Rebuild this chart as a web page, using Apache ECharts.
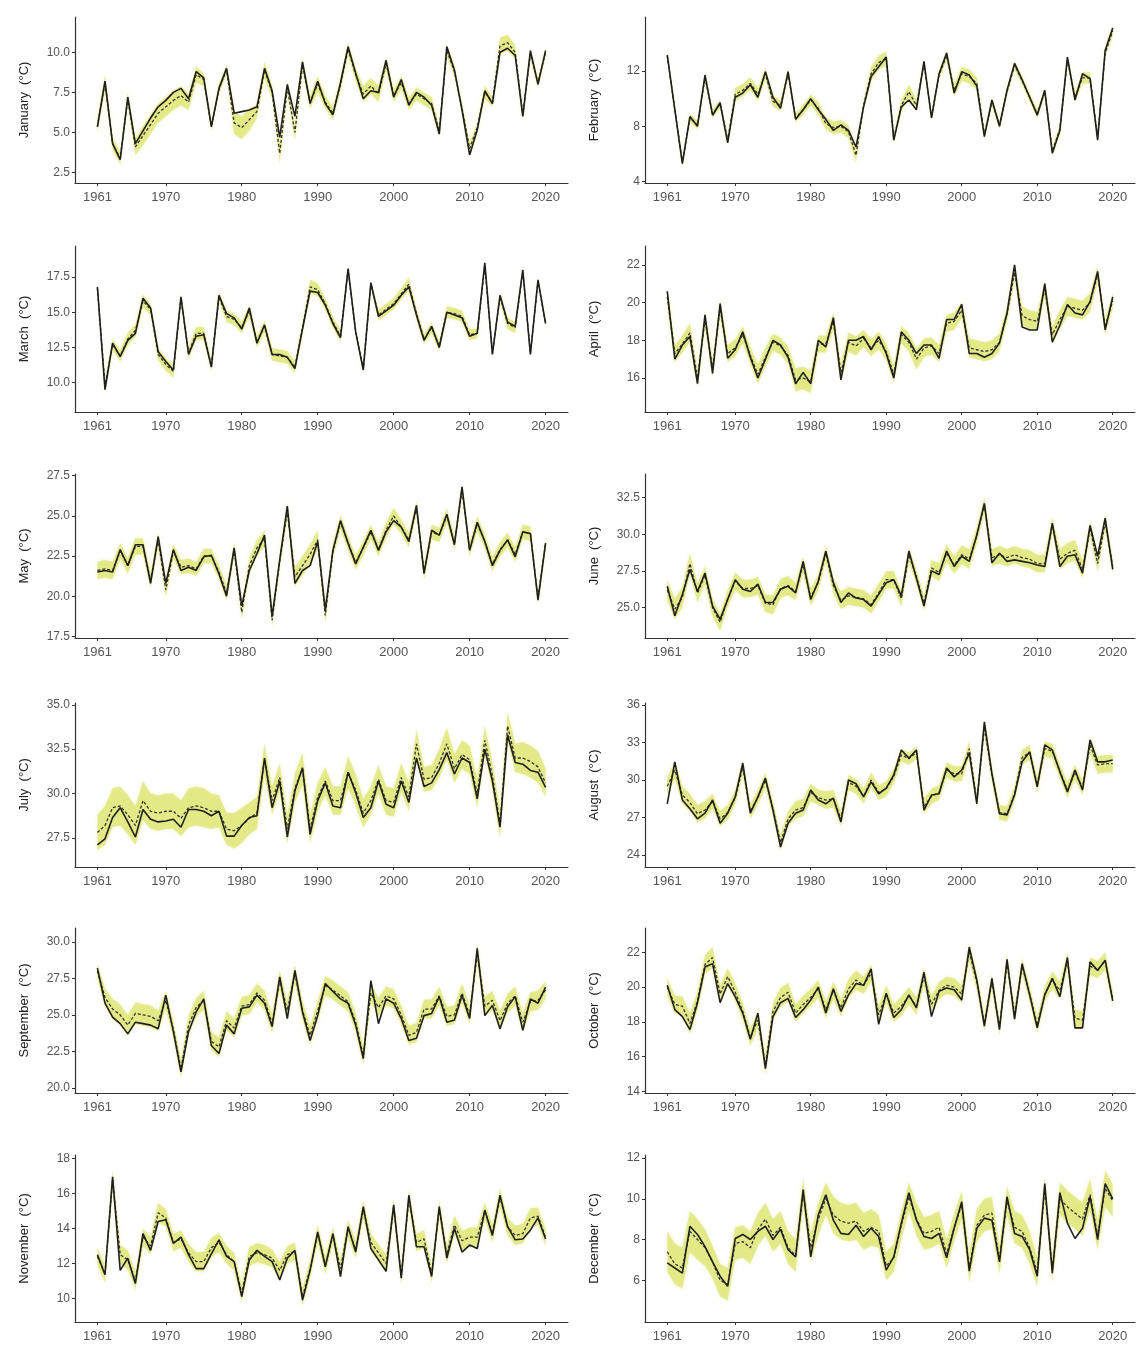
<!DOCTYPE html>
<html><head><meta charset="utf-8">
<script src="https://cdn.jsdelivr.net/npm/echarts@6/dist/echarts.min.js"></script>
<style>html,body{margin:0;padding:0;background:#fff}#c{width:1137px;height:1346px}</style>
</head><body><div id="c"></div>
<script>
const years = Array.from({length:60},(_,i)=>1961+i);
const xTicks = [1961,1970,1980,1990,2000,2010,2020];
const months = ['January','February','March','April','May','June','July','August','September','October','November','December'];

const jan_obs=[5.35,8.2,4.3,3.3,7.2,4.3,5.1,5.9,6.6,7.0, 7.5,7.75,7.1,8.8,8.4,5.35,7.75,9.0,6.2,6.3, 6.4,6.6,9.0,7.6,4.7,8.0,6.0,9.4,6.8,8.2, 6.8,6.1,8.1,10.35,8.7,7.1,7.6,7.5,9.5,7.2, 8.3,6.7,7.5,7.2,6.7,4.9,10.35,8.9,6.4,3.6, 5.15,7.6,6.8,10.0,10.25,9.8,6.0,10.1,8.0,10.1];
const jan_pred=[5.4,8.1,4.3,3.4,7.1,4.1,4.8,5.5,6.2,6.6, 7.0,7.3,6.9,8.6,8.3,5.4,7.7,8.9,5.6,5.3, 5.8,6.3,8.9,7.5,3.7,7.8,5.0,9.2,6.9,8.0, 6.9,6.2,8.0,10.2,8.6,7.4,7.9,7.4,9.3,7.3, 8.1,6.8,7.4,7.1,6.8,5.1,10.1,8.8,6.5,4.0, 5.3,7.5,6.9,10.4,10.6,10.0,6.1,9.9,8.1,10.0];
const jan_hw=[0.4,0.5,0.4,0.4,0.4,0.5,0.6,0.6,0.6,0.6, 0.6,0.6,0.5,0.5,0.4,0.3,0.3,0.3,0.7,0.7, 0.7,0.4,0.5,0.4,0.6,0.4,0.5,0.4,0.4,0.5, 0.4,0.4,0.4,0.4,0.4,0.5,0.5,0.5,0.4,0.4, 0.4,0.4,0.4,0.4,0.4,0.3,0.4,0.3,0.3,0.4, 0.3,0.4,0.3,0.5,0.5,0.4,0.3,0.3,0.3,0.3];

const feb_obs=[13.15,9.2,5.3,8.7,8.0,11.7,8.8,9.7,6.8,10.1, 10.4,11.0,10.1,11.95,10.1,9.3,11.95,8.5,9.2,10.0, 9.2,8.5,7.7,8.1,7.7,6.5,9.4,11.6,12.3,13.0, 7.0,9.4,9.9,9.2,12.7,8.6,11.8,13.3,10.4,11.95, 11.7,10.9,7.25,9.9,8.0,10.6,12.55,11.35,10.1,8.8, 10.6,6.05,7.7,13.0,9.9,11.8,11.45,7.0,13.5,15.1];
const feb_pred=[13.1,9.2,5.4,8.6,8.1,11.5,8.9,9.6,7.0,10.3, 10.6,11.1,10.3,11.8,9.8,9.5,11.8,8.6,9.2,9.9, 9.3,8.2,7.9,8.0,7.6,5.9,9.5,11.8,12.6,12.9, 7.1,9.5,10.5,9.5,12.5,8.7,11.7,13.1,10.6,11.8, 11.6,11.1,7.4,9.8,8.1,10.5,12.4,11.3,10.1,8.9, 10.5,6.2,7.8,12.8,10.1,11.5,11.5,7.2,13.3,14.9];
const feb_hw=[0.3,0.3,0.3,0.3,0.3,0.3,0.3,0.3,0.3,0.45, 0.45,0.45,0.45,0.4,0.4,0.4,0.3,0.3,0.35,0.4, 0.45,0.45,0.45,0.45,0.45,0.5,0.35,0.5,0.5,0.5, 0.3,0.4,0.5,0.4,0.3,0.3,0.3,0.35,0.45,0.5, 0.5,0.45,0.3,0.3,0.3,0.3,0.3,0.3,0.3,0.3, 0.3,0.3,0.3,0.3,0.35,0.4,0.4,0.3,0.3,0.4];

const mar_obs=[16.8,9.5,12.8,11.85,13.0,13.5,16.0,15.3,12.2,11.5, 10.9,16.1,12.0,13.3,13.4,11.1,16.2,14.9,14.6,13.8, 15.3,12.8,14.1,12.0,12.0,11.8,11.0,13.8,16.5,16.4, 15.5,14.2,13.2,18.1,13.6,10.9,17.1,14.7,15.1,15.5, 16.2,16.8,14.8,13.0,14.0,12.5,15.0,14.8,14.6,13.3, 13.5,18.5,12.0,16.2,14.3,14.0,18.0,12.0,17.3,14.2];
const mar_pred=[16.7,9.8,12.7,11.9,13.1,13.7,15.8,15.2,12.0,11.3, 10.8,16.0,12.1,13.5,13.5,11.2,16.1,14.7,14.5,13.9, 15.1,12.9,14.0,12.0,11.9,11.8,11.1,13.9,16.8,16.6, 15.6,14.3,13.3,18.0,13.6,11.0,17.0,14.8,15.2,15.6, 16.3,17.0,14.9,13.1,13.9,12.6,15.0,14.9,14.7,13.4, 13.5,18.3,12.1,16.1,14.2,13.9,17.9,12.1,17.2,14.2];
const mar_hw=[0.2,0.4,0.4,0.4,0.45,0.45,0.45,0.4,0.4,0.45, 0.45,0.3,0.4,0.45,0.45,0.35,0.35,0.4,0.4,0.4, 0.4,0.4,0.4,0.45,0.45,0.45,0.4,0.4,0.5,0.45, 0.4,0.4,0.4,0.2,0.2,0.2,0.25,0.4,0.4,0.4, 0.4,0.45,0.4,0.35,0.35,0.35,0.4,0.4,0.4,0.4, 0.35,0.2,0.2,0.3,0.4,0.4,0.2,0.2,0.2,0.2];

const apr_obs=[20.6,17.0,17.75,18.2,15.7,19.35,16.25,19.95,17.05,17.5, 18.45,17.1,16.0,17.0,18.0,17.75,17.1,15.7,16.3,15.7, 18.0,17.65,19.2,15.9,18.0,18.0,18.2,17.5,18.2,17.3, 16.0,18.45,18.0,17.3,17.75,17.75,17.05,19.1,19.1,19.9, 17.3,17.3,17.1,17.3,17.85,19.45,22.0,18.7,18.55,18.55, 21.0,17.9,18.8,19.9,19.45,19.35,20.05,21.65,18.55,20.3];
const apr_pred=[20.3,17.3,17.8,18.4,16.0,19.1,16.5,19.7,17.3,17.6, 18.3,17.2,16.2,17.1,17.9,17.7,17.2,15.9,16.0,15.8, 17.8,17.8,19.0,16.3,17.9,17.7,18.1,17.6,18.0,17.4, 16.2,18.3,17.9,17.0,17.6,17.7,17.3,18.9,19.0,19.6, 17.6,17.5,17.4,17.5,17.9,19.4,21.6,19.3,19.1,19.0, 20.7,18.3,19.1,19.8,19.7,19.6,20.0,21.5,18.7,20.1];
const apr_hw=[0.5,0.45,0.45,0.5,0.45,0.45,0.45,0.45,0.45,0.45, 0.45,0.45,0.5,0.5,0.45,0.45,0.45,0.6,0.6,0.6, 0.45,0.45,0.45,0.5,0.5,0.5,0.45,0.45,0.45,0.45, 0.45,0.45,0.5,0.55,0.5,0.45,0.45,0.45,0.45,0.4, 0.5,0.5,0.5,0.5,0.45,0.4,0.4,0.5,0.5,0.5, 0.4,0.45,0.5,0.5,0.5,0.5,0.5,0.4,0.4,0.4];

const may_obs=[21.5,21.6,21.5,22.9,21.9,23.2,23.2,20.8,23.7,20.8, 22.9,21.6,21.8,21.6,22.45,22.55,21.4,20.0,23.0,19.4, 21.6,22.65,23.8,18.75,22.25,25.6,20.8,21.6,21.9,23.4, 19.15,22.85,24.7,23.3,22.0,23.05,24.1,22.85,24.0,24.7, 24.3,23.4,25.65,21.4,24.1,23.8,25.1,23.2,26.8,22.85, 24.6,23.4,21.9,22.85,23.5,22.45,24.0,23.9,19.75,23.3];
const may_pred=[21.6,21.7,21.6,22.8,21.9,23.1,23.1,21.0,23.5,20.4, 22.8,21.8,21.9,21.7,22.5,22.5,21.5,20.2,22.9,19.0, 21.9,23.0,23.6,18.5,22.2,25.3,21.2,21.9,22.6,23.5, 18.8,22.8,24.6,23.3,22.1,23.0,24.0,22.9,24.1,25.0, 24.3,23.5,25.5,21.5,24.0,23.8,25.0,23.3,26.6,22.9, 24.5,23.4,22.0,22.9,23.5,22.6,24.0,23.9,19.9,23.3];
const may_hw=[0.55,0.55,0.55,0.5,0.5,0.5,0.5,0.45,0.45,0.45, 0.45,0.45,0.45,0.45,0.45,0.45,0.45,0.45,0.45,0.4, 0.5,0.5,0.5,0.4,0.5,0.45,0.6,0.6,0.6,0.6, 0.45,0.45,0.45,0.45,0.45,0.45,0.45,0.45,0.5,0.5, 0.45,0.45,0.4,0.45,0.45,0.45,0.45,0.45,0.4,0.45, 0.45,0.45,0.45,0.45,0.45,0.45,0.45,0.45,0.35,0.35];

const jun_obs=[26.45,24.45,25.9,27.6,26.1,27.35,25.1,24.2,25.55,26.9, 26.25,26.1,26.6,25.35,25.35,26.25,26.45,26.0,28.15,25.55, 26.8,28.85,26.7,25.35,26.0,25.65,25.55,25.1,25.9,26.7, 26.9,25.8,28.85,27.0,25.1,27.5,27.25,28.85,27.8,28.5, 28.15,29.95,32.1,28.05,28.7,28.15,28.25,28.15,28.05,27.9, 27.8,30.75,27.8,28.5,28.6,27.35,30.6,28.5,31.1,27.6];
const jun_pred=[26.2,24.9,25.7,28.0,26.0,27.2,25.0,24.0,25.6,26.8, 26.3,26.3,26.5,25.3,25.2,26.3,26.5,26.1,27.9,25.7, 26.7,28.7,26.5,25.5,25.8,25.7,25.6,25.2,26.0,26.9, 26.9,25.6,28.6,27.1,25.3,27.7,27.4,28.7,27.9,28.6, 28.3,29.9,32.0,28.4,28.6,28.4,28.6,28.4,28.3,28.0, 28.0,30.6,28.3,28.7,28.9,27.6,30.4,28.0,30.8,27.8];
const jun_hw=[0.7,0.7,0.7,0.7,0.65,0.6,0.6,0.6,0.6,0.6, 0.6,0.6,0.6,0.6,0.65,0.65,0.65,0.6,0.55,0.6, 0.55,0.55,0.55,0.6,0.6,0.6,0.6,0.6,0.6,0.6, 0.6,0.55,0.5,0.5,0.5,0.55,0.6,0.6,0.6,0.65, 0.65,0.55,0.5,0.6,0.6,0.6,0.6,0.6,0.6,0.6, 0.6,0.5,0.7,0.7,0.7,0.6,0.5,0.6,0.5,0.5];

const jul_obs=[27.1,27.45,28.65,29.2,28.4,27.55,29.1,28.55,28.4,28.45, 28.55,28.1,29.1,29.1,29.0,28.75,29.0,27.6,27.6,28.2, 28.65,28.75,32.0,29.2,30.7,27.55,30.15,31.45,27.7,29.6, 30.6,29.3,29.2,31.2,30.05,28.65,29.2,30.7,29.4,29.2, 30.7,29.5,32.0,30.4,30.6,31.35,32.3,31.1,32.0,31.75, 29.7,32.5,30.7,28.1,33.3,31.75,31.65,31.3,31.2,30.35];
const jul_pred=[27.8,28.2,29.2,29.3,28.8,28.2,29.6,29.0,28.9,29.0, 29.0,28.6,29.2,29.3,29.2,29.0,29.0,28.0,27.9,28.2, 28.6,28.9,31.9,29.6,30.9,28.0,30.3,31.4,28.0,29.8, 30.7,29.6,29.6,31.2,30.2,28.9,29.6,30.8,29.6,29.5, 30.9,29.8,32.8,30.8,30.9,31.7,32.8,31.4,32.2,31.9, 30.0,33.0,31.0,28.3,33.8,32.0,32.0,31.8,31.5,30.6];
const jul_hw=[1.0,1.1,1.1,1.1,1.1,1.1,1.1,1.0,1.0,1.0, 1.0,1.0,1.1,1.1,1.1,1.0,0.9,0.9,1.0,1.0, 0.9,0.9,0.9,0.8,0.8,0.8,0.8,0.9,0.8,0.8, 0.8,0.8,0.8,0.9,0.9,0.8,0.8,0.8,0.8,0.8, 0.8,0.8,0.8,0.7,0.7,0.8,0.9,0.8,0.8,0.8, 0.8,0.8,0.8,0.8,0.8,0.8,0.9,0.9,0.9,0.8];

const aug_obs=[28.1,31.45,28.4,27.7,26.9,27.35,28.4,26.55,27.35,28.65, 31.35,27.35,28.65,30.15,27.6,24.65,26.55,27.35,27.6,29.2, 28.4,28.1,28.55,26.65,30.0,29.7,28.65,29.85,28.9,29.35, 30.4,32.4,31.75,32.4,27.6,28.8,28.9,30.95,30.25,30.8, 32.15,28.1,34.65,30.5,27.3,27.2,28.8,31.45,32.25,29.45, 32.8,32.4,30.65,29.05,30.8,29.2,33.2,31.45,31.45,31.6];
const aug_pred=[29.5,30.8,28.8,28.2,27.3,27.6,28.3,26.9,27.4,28.6, 31.0,27.5,28.6,30.0,27.7,25.0,26.9,27.6,27.8,29.0, 28.6,28.4,28.5,26.9,29.8,29.5,28.7,30.0,29.0,29.3, 30.3,32.0,31.7,32.2,27.9,28.7,29.0,30.8,30.5,30.5, 32.5,28.3,34.2,30.4,27.4,27.3,28.9,31.8,32.2,29.6, 32.5,32.3,30.7,29.2,30.6,29.4,32.8,31.2,31.3,31.3];
const aug_hw=[0.7,0.7,0.7,0.7,0.7,0.7,0.6,0.6,0.6,0.6, 0.6,0.6,0.6,0.6,0.6,0.6,0.6,0.7,0.7,0.7, 0.6,0.7,0.7,0.6,0.6,0.6,0.6,0.6,0.6,0.6, 0.6,0.5,0.5,0.5,0.6,0.6,0.6,0.6,0.6,0.6, 0.6,0.6,0.6,0.6,0.6,0.6,0.6,0.6,0.6,0.6, 0.6,0.6,0.6,0.6,0.6,0.6,0.6,0.7,0.7,0.7];

const sep_obs=[28.2,25.8,24.85,24.4,23.7,24.5,24.4,24.3,24.05,26.35, 23.85,21.1,23.85,25.2,26.1,22.9,22.35,24.3,23.7,25.45, 25.55,26.35,25.8,24.2,27.6,24.75,28.05,25.2,23.25,24.95, 27.15,26.6,26.1,25.8,24.3,22.0,27.35,24.4,26.1,25.8, 24.75,23.25,23.4,24.95,25.1,26.25,24.5,24.65,26.35,24.75, 29.55,24.95,25.65,24.05,25.55,26.25,23.95,26.1,25.8,26.9];
const sep_pred=[28.0,26.2,25.4,25.0,24.3,25.1,25.0,24.9,24.6,26.0, 24.0,21.3,24.3,25.5,26.0,23.2,22.8,24.6,24.1,25.6, 25.7,26.5,26.0,24.4,27.4,25.3,27.8,25.3,23.6,25.3, 27.0,26.7,26.3,25.9,24.5,22.2,26.5,25.5,26.3,26.1, 25.0,23.6,23.8,25.4,25.4,26.3,24.9,25.0,26.5,25.0, 29.2,25.6,26.0,24.6,25.8,26.3,24.5,25.9,26.0,26.7];
const sep_hw=[0.5,0.6,0.7,0.7,0.7,0.75,0.75,0.75,0.7,0.6, 0.6,0.6,0.65,0.65,0.65,0.65,0.65,0.65,0.65,0.65, 0.65,0.65,0.65,0.65,0.65,0.65,0.6,0.65,0.65,0.65, 0.65,0.65,0.65,0.65,0.65,0.6,0.6,0.65,0.65,0.65, 0.65,0.65,0.65,0.65,0.65,0.65,0.65,0.65,0.65,0.65, 0.6,0.65,0.65,0.65,0.65,0.65,0.65,0.65,0.65,0.6];

const oct_obs=[20.1,18.7,18.3,17.55,19.1,21.15,21.35,19.1,20.2,19.45, 18.5,17.0,18.5,15.3,18.3,19.1,19.35,18.25,18.7,19.25, 20.0,18.5,19.9,18.6,19.55,20.2,20.1,21.05,17.85,19.65, 18.25,18.7,19.55,18.8,20.85,18.3,19.75,19.95,19.85,19.25, 22.3,20.4,17.75,20.5,17.55,21.6,18.15,21.35,19.55,17.65, 19.55,20.5,19.45,21.7,17.65,17.65,21.45,20.95,21.55,19.2];
const oct_pred=[20.0,19.0,18.9,17.9,19.2,21.3,21.7,19.6,20.6,19.7, 18.6,17.1,18.1,15.5,18.6,19.4,19.7,18.5,19.0,19.4, 19.9,18.7,19.8,18.8,19.9,20.4,20.1,20.8,18.4,19.6, 18.5,18.9,19.5,18.9,20.6,19.0,19.8,20.1,20.0,19.6, 22.0,20.3,17.9,20.3,17.7,21.4,18.4,21.2,19.6,17.8, 19.6,20.4,19.8,21.5,18.2,18.1,21.2,21.0,21.5,19.3];
const oct_hw=[0.5,0.5,0.55,0.6,0.55,0.55,0.6,0.5,0.5,0.5, 0.5,0.5,0.5,0.5,0.5,0.55,0.55,0.5,0.5,0.5, 0.5,0.5,0.5,0.5,0.55,0.55,0.5,0.5,0.5,0.5, 0.5,0.55,0.5,0.5,0.5,0.5,0.5,0.5,0.5,0.5, 0.5,0.5,0.45,0.45,0.45,0.45,0.45,0.45,0.45,0.45, 0.45,0.5,0.5,0.45,0.5,0.5,0.5,0.5,0.5,0.45];

const nov_obs=[12.5,11.35,16.95,11.6,12.3,10.85,13.7,12.75,14.4,14.5, 13.15,13.5,12.5,11.7,11.7,12.55,13.35,12.4,12.1,10.1, 12.2,12.75,12.4,12.1,11.05,12.3,12.75,9.9,11.6,13.8, 11.8,13.7,11.25,14.1,12.65,15.25,12.85,12.2,11.55,15.35, 11.15,15.9,12.95,12.95,11.25,15.25,12.3,14.0,12.65,13.05, 12.85,15.05,13.6,15.9,14.1,13.35,13.4,13.9,14.6,13.4];
const nov_pred=[12.4,11.4,16.8,12.5,12.2,11.0,13.5,13.0,14.9,14.6, 13.2,13.4,12.6,12.1,12.1,12.9,13.2,12.5,12.1,10.3, 12.4,12.6,12.5,12.3,11.6,12.5,12.7,10.1,11.7,13.7, 11.9,13.6,11.7,14.0,12.8,15.1,13.2,12.6,12.0,15.2, 11.3,15.7,13.2,13.4,11.4,15.1,12.5,14.2,13.3,13.5, 13.5,15.0,13.7,15.8,14.1,13.6,13.7,14.6,14.7,13.5];
const nov_hw=[0.5,0.5,0.5,0.55,0.55,0.5,0.5,0.5,0.55,0.5, 0.5,0.5,0.5,0.55,0.55,0.55,0.55,0.5,0.5,0.5, 0.55,0.55,0.55,0.5,0.5,0.5,0.5,0.5,0.5,0.5, 0.5,0.5,0.5,0.5,0.5,0.5,0.5,0.5,0.5,0.5, 0.5,0.5,0.5,0.5,0.5,0.5,0.5,0.55,0.55,0.55, 0.55,0.5,0.5,0.5,0.5,0.55,0.55,0.55,0.5,0.5];

const dec_obs=[6.85,6.6,6.35,8.65,8.25,7.65,6.9,6.2,5.7,8.05, 8.25,8.0,8.4,8.65,8.0,8.5,7.5,7.15,10.45,7.15, 9.2,10.2,8.95,8.3,8.25,8.7,8.15,8.55,8.15,6.5, 7.15,8.8,10.3,8.95,8.15,8.05,8.3,7.1,8.55,9.85, 6.45,8.55,9.05,8.95,6.9,10.1,8.3,8.15,7.5,6.2, 10.75,6.35,10.3,8.8,8.05,8.55,10.1,8.0,10.75,10.0];
const dec_pred=[7.4,6.8,6.6,8.4,8.0,7.6,6.9,6.0,5.8,7.8, 7.9,7.6,8.5,9.0,8.2,8.6,7.6,7.2,10.3,7.6, 9.0,10.0,9.2,8.9,8.8,8.9,8.4,8.6,8.4,6.7, 7.1,8.7,10.1,9.0,8.3,8.4,8.6,7.3,8.6,9.7, 6.6,8.7,9.2,9.3,7.0,9.9,8.6,8.4,7.6,6.4, 10.5,6.5,10.0,9.6,9.3,9.0,10.2,8.2,10.5,9.9];
const dec_hw=[1.0,1.0,1.0,1.0,1.0,0.9,0.8,0.8,0.8,0.8, 0.8,0.8,0.8,0.8,0.8,0.8,0.8,0.8,0.7,0.7, 0.8,0.8,0.9,0.9,0.9,0.9,0.9,0.9,0.8,0.7, 0.7,0.7,0.7,0.8,0.8,0.8,0.8,0.7,0.7,0.7, 0.7,0.8,0.8,0.8,0.7,0.7,0.8,0.8,0.8,0.7, 0.6,0.6,0.8,0.8,0.8,0.8,0.8,0.7,0.9,0.8];

const jan_ticks=[2.5,5,7.5,10], feb_ticks=[4,8,12], mar_ticks=[10,12.5,15,17.5], apr_ticks=[16,18,20,22],
      may_ticks=[17.5,20,22.5,25,27.5], jun_ticks=[25,27.5,30,32.5], jul_ticks=[27.5,30,32.5,35], aug_ticks=[24,27,30,33,36],
      sep_ticks=[20,22.5,25,27.5,30], oct_ticks=[14,16,18,20,22], nov_ticks=[10,12,14,16,18], dec_ticks=[6,8,10,12];

const panels = [
  {obs:jan_obs,pred:jan_pred,hw:jan_hw,ticks:jan_ticks,dec:1,min:1.85,max:12.2},
  {obs:feb_obs,pred:feb_pred,hw:feb_hw,ticks:feb_ticks,dec:0,min:3.9,max:15.9},
  {obs:mar_obs,pred:mar_pred,hw:mar_hw,ticks:mar_ticks,dec:1,min:7.92,max:19.7},
  {obs:apr_obs,pred:apr_pred,hw:apr_hw,ticks:apr_ticks,dec:0,min:14.2,max:23.0},
  {obs:may_obs,pred:may_pred,hw:may_hw,ticks:may_ticks,dec:1,min:17.4,max:27.6},
  {obs:jun_obs,pred:jun_pred,hw:jun_hw,ticks:jun_ticks,dec:1,min:22.93,max:34.1},
  {obs:jul_obs,pred:jul_pred,hw:jul_hw,ticks:jul_ticks,dec:1,min:25.86,max:35.1},
  {obs:aug_obs,pred:aug_pred,hw:aug_hw,ticks:aug_ticks,dec:0,min:23.05,max:36.15},
  {obs:sep_obs,pred:sep_pred,hw:sep_hw,ticks:sep_ticks,dec:1,min:19.65,max:30.95},
  {obs:oct_obs,pred:oct_pred,hw:oct_hw,ticks:oct_ticks,dec:0,min:13.9,max:23.4},
  {obs:nov_obs,pred:nov_pred,hw:nov_hw,ticks:nov_ticks,dec:0,min:8.65,max:18.2},
  {obs:dec_obs,pred:dec_pred,hw:dec_hw,ticks:dec_ticks,dec:0,min:3.95,max:12.15}
];

const colLeft=[75,645], colWidth=[493,490];
const rowTop=[17,246,474,703,928,1155], rowHeight=[166,166,164,164,165,167];
const FONT='"Liberation Sans", Arial, Helvetica, sans-serif';
const AX='#333333';

const grid=[], xAxis=[], yAxis=[], series=[];
panels.forEach((p,i)=>{
  const c=i%2, r=Math.floor(i/2);
  grid.push({left:colLeft[c], top:rowTop[r], width:colWidth[c], height:rowHeight[r], containLabel:false});
  xAxis.push({type:'value', gridIndex:i, min:1958.05, max:2022.95,
    axisLine:{show:true, onZero:false, lineStyle:{color:AX,width:1.2}},
    axisTick:{show:true, length:3, customValues:xTicks, lineStyle:{color:AX}},
    axisLabel:{customValues:xTicks, color:'#555555', fontSize:13, fontFamily:FONT, margin:8, formatter:v=>String(v)},
    splitLine:{show:false}});
  yAxis.push({type:'value', gridIndex:i, min:p.min, max:p.max,
    name:months[i]+'  (°C)', nameLocation:'middle', nameGap:44,
    nameTextStyle:{color:'#222222', fontSize:13, fontFamily:FONT},
    axisLine:{show:true, onZero:false, lineStyle:{color:AX,width:1.2}},
    axisTick:{show:true, length:3, customValues:p.ticks, lineStyle:{color:AX}},
    axisLabel:{customValues:p.ticks, color:'#555555', fontSize:12, fontFamily:FONT, margin:5, formatter:v=>Number(v).toFixed(p.dec)},
    splitLine:{show:false}});
  const pred=p.pred, hw=p.hw;
  series.push({type:'custom', xAxisIndex:i, yAxisIndex:i, silent:true, clip:true, z:1,
    data:[[years[0], pred[0]]],
    renderItem:(params, api)=>{
      const pts=[];
      for(let k=0;k<years.length;k++) pts.push(api.coord([years[k], pred[k]+hw[k]]));
      for(let k=years.length-1;k>=0;k--) pts.push(api.coord([years[k], pred[k]-hw[k]]));
      return {type:'polygon', shape:{points:pts}, style:{fill:'rgba(210,220,60,0.5)', shadowBlur:4, shadowColor:'rgba(210,220,60,0.5)'}};
    }});
  series.push({type:'line', xAxisIndex:i, yAxisIndex:i, silent:true, z:3, symbol:'none',
    data:years.map((y,k)=>[y,pred[k]]),
    lineStyle:{color:'#333333', width:1.3, type:[3,2]}});
  series.push({type:'line', xAxisIndex:i, yAxisIndex:i, silent:true, z:4, symbol:'none',
    data:years.map((y,k)=>[y,p.obs[k]]),
    lineStyle:{color:'#1f1f1f', width:1.6}});
});

const chart=echarts.init(document.getElementById('c'), null, {renderer:'canvas'});
chart.setOption({animation:false, backgroundColor:'#ffffff', grid, xAxis, yAxis, series});
</script>
</body></html>
